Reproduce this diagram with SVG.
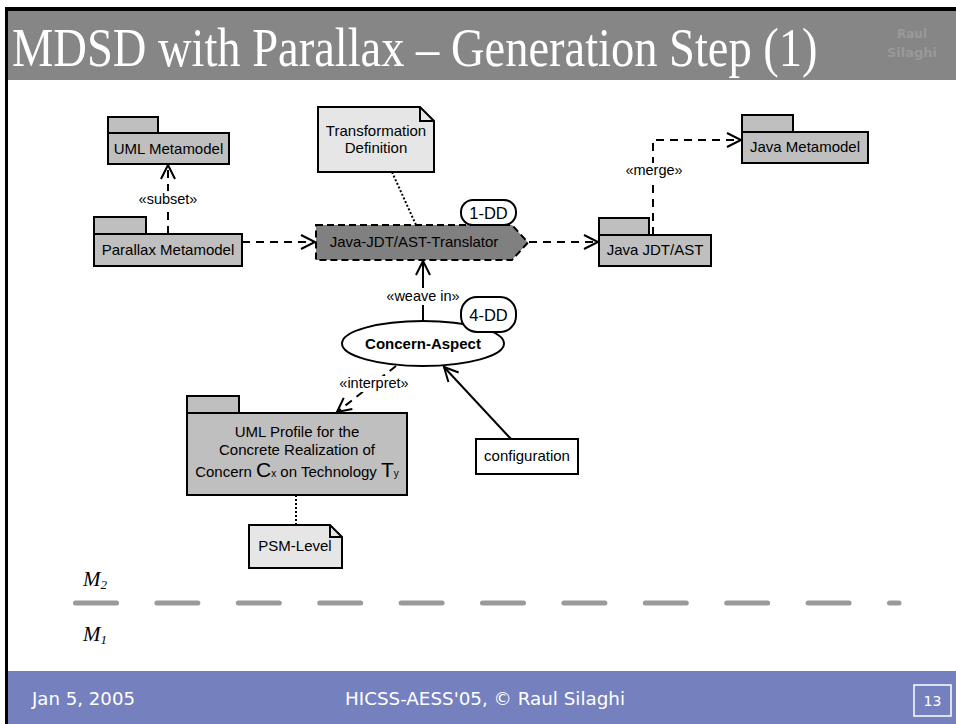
<svg xmlns="http://www.w3.org/2000/svg" width="956" height="724" viewBox="0 0 956 724">
<defs>
<style>
.pkg { fill:#bfbfbf; stroke:#000; stroke-width:2; }
.note { fill:#e6e6e6; stroke:#000; stroke-width:2; }
.t { font-family:"Liberation Sans", Arial, sans-serif; font-size:15px; fill:#000; text-anchor:middle; }
.lbl { font-family:"Liberation Sans", Arial, sans-serif; font-size:14.5px; fill:#000; text-anchor:middle; }
.dd { font-family:"Liberation Sans", Arial, sans-serif; font-size:16.5px; fill:#000; text-anchor:middle; }
.dash { fill:none; stroke:#000; stroke-width:2; stroke-dasharray:8 6; }
.solid { fill:none; stroke:#000; stroke-width:2; }
.dot { fill:none; stroke:#000; stroke-width:2; stroke-dasharray:2 2; }
.bg { fill:#fff; stroke:none; }
.foot { font-family:"DejaVu Sans", "Liberation Sans", sans-serif; fill:#fff; }
.m { font-family:"Liberation Serif", "Times New Roman", serif; font-style:italic; fill:#000; }
</style>
<marker id="open" viewBox="0 0 20 20" refX="16" refY="10" markerWidth="20" markerHeight="20" markerUnits="userSpaceOnUse" orient="auto">
<path d="M2,3 L16,10 L2,17" fill="none" stroke="#000" stroke-width="2" stroke-dasharray="none"/>
</marker>
</defs>

<rect x="0" y="0" width="956" height="724" fill="#fff"/>

<!-- slide frame -->
<g id="frame">
<rect x="8" y="11" width="948" height="69" fill="#868686"/>
<rect x="5" y="7" width="951" height="4" fill="#000"/>
<rect x="5" y="7" width="3" height="717" fill="#000"/>
<rect x="8" y="671" width="948" height="53" fill="#7580bf"/>
<text transform="translate(12,66) scale(0.861,1)" x="0" y="0" font-family="Liberation Serif, Times New Roman, serif" font-size="54" fill="#fff">MDSD with Parallax – Generation Step (1)</text>
<text x="912" y="38" text-anchor="middle" font-family="DejaVu Sans, sans-serif" font-size="12" font-weight="bold" fill="#999">Raul</text>
<text x="912" y="57" text-anchor="middle" font-family="DejaVu Sans, sans-serif" font-size="13" font-weight="bold" fill="#999">Silaghi</text>
</g>

<!-- connectors -->
<g id="connectors">
<line class="dash" x1="168" y1="234" x2="168" y2="165" marker-end="url(#open)"/>
<line class="dash" x1="242" y1="242" x2="315" y2="242" marker-end="url(#open)"/>
<line class="dash" x1="529" y1="242" x2="598" y2="242" marker-end="url(#open)"/>
<path class="dash" d="M653,235 V140 H741" marker-end="url(#open)"/>
<line class="dot" x1="392" y1="172" x2="416" y2="225"/>
<line class="solid" x1="423" y1="321" x2="423" y2="261" marker-end="url(#open)"/>
<line class="dash" x1="396" y1="366" x2="337" y2="412" marker-end="url(#open)"/>
<line class="solid" x1="511" y1="439" x2="444" y2="367" marker-end="url(#open)"/>
<line class="dot" x1="296" y1="495" x2="296" y2="525"/>

<rect class="bg" x="137" y="191" width="62" height="16"/>
<text class="lbl" x="168" y="204">«subset»</text>
<rect class="bg" x="625" y="163" width="58" height="16"/>
<text class="lbl" x="654" y="175">«merge»</text>
<rect class="bg" x="386" y="288" width="74" height="17"/>
<text class="lbl" x="423" y="301">«weave in»</text>
<rect class="bg" x="336" y="376" width="76" height="16"/>
<text class="lbl" x="374" y="388">«interpret»</text>
</g>

<g id="uml-metamodel">
<rect class="pkg" x="108" y="117" width="50" height="16"/>
<rect class="pkg" x="108" y="133" width="121" height="31"/>
<text class="t" x="168.5" y="154">UML Metamodel</text>
</g>

<g id="parallax-metamodel">
<rect class="pkg" x="94" y="217" width="52" height="17"/>
<rect class="pkg" x="94" y="234" width="148" height="32"/>
<text class="t" x="168" y="255">Parallax Metamodel</text>
</g>

<g id="java-metamodel">
<rect class="pkg" x="742" y="115" width="51" height="17"/>
<rect class="pkg" x="742" y="132" width="126" height="31"/>
<text class="t" x="805" y="152">Java Metamodel</text>
</g>

<g id="java-jdt-ast">
<rect class="pkg" x="599" y="218" width="50" height="17"/>
<rect class="pkg" x="599" y="235" width="112" height="31"/>
<text class="t" x="655" y="255">Java JDT/AST</text>
</g>

<g id="transformation-definition">
<path class="note" d="M318,107 H420 L434,121 V172 H318 Z"/>
<path d="M420,107 V121 H434" fill="none" stroke="#000" stroke-width="2"/>
<text class="t" x="376" y="136">Transformation</text>
<text class="t" x="376" y="153">Definition</text>
</g>

<g id="translator">
<polygon points="316,225 512,225 528,242.5 512,260 316,260" fill="#808080" stroke="#000" stroke-width="2" stroke-dasharray="7 4"/>
<text class="t" x="414" y="247">Java-JDT/AST-Translator</text>
</g>

<g id="dd1">
<rect x="461" y="200" width="55" height="25" rx="12" fill="#fff" stroke="#000" stroke-width="2"/>
<text class="dd" x="488.5" y="218.5">1-DD</text>
</g>

<g id="concern-aspect">
<ellipse cx="423" cy="343.5" rx="81" ry="22.5" fill="#fff" stroke="#000" stroke-width="2"/>
<text class="t" x="423" y="348.5" font-weight="bold">Concern-Aspect</text>
</g>

<g id="dd4">
<rect x="461" y="297" width="55" height="35" rx="16" fill="#fff" stroke="#000" stroke-width="2"/>
<text class="dd" x="488.5" y="320.5">4-DD</text>
</g>

<g id="uml-profile">
<rect class="pkg" x="187" y="396" width="52" height="17"/>
<rect class="pkg" x="187" y="413" width="220" height="82"/>
<text class="t" x="297" y="437">UML Profile for the</text>
<text class="t" x="297" y="455">Concrete Realization of</text>
<text class="t" x="297" y="477">Concern <tspan font-size="21">C</tspan><tspan font-size="10">x</tspan> on Technology <tspan font-size="21">T</tspan><tspan font-size="10">y</tspan></text>
</g>

<g id="psm-level">
<path class="note" d="M249,525 H330 L342,537 V568 H249 Z"/>
<path d="M330,525 V537 H342" fill="none" stroke="#000" stroke-width="2"/>
<text class="t" x="295" y="551">PSM-Level</text>
</g>

<g id="configuration">
<rect x="476" y="439" width="102" height="35" fill="#fff" stroke="#000" stroke-width="2"/>
<text class="t" x="527" y="461">configuration</text>
</g>

<g id="levels">
<text class="m" x="83" y="586" font-size="21">M<tspan font-size="13" dy="3">2</tspan></text>
<line x1="75.5" y1="603" x2="899" y2="603" stroke="#9a9a9a" stroke-width="5" stroke-linecap="round" stroke-dasharray="41 40.4"/>
<text class="m" x="83" y="641" font-size="21">M<tspan font-size="13" dy="3">1</tspan></text>
</g>

<g id="footer">
<text class="foot" x="32" y="705" font-size="17" textLength="103" lengthAdjust="spacingAndGlyphs">Jan 5, 2005</text>
<text class="foot" x="345" y="705" font-size="17" textLength="280" lengthAdjust="spacingAndGlyphs">HICSS-AESS'05, © Raul Silaghi</text>
<rect x="914" y="685" width="37" height="31" fill="none" stroke="#fff" stroke-width="1.5"/>
<text class="foot" x="932.5" y="706" font-size="14" text-anchor="middle">13</text>
</g>
</svg>
